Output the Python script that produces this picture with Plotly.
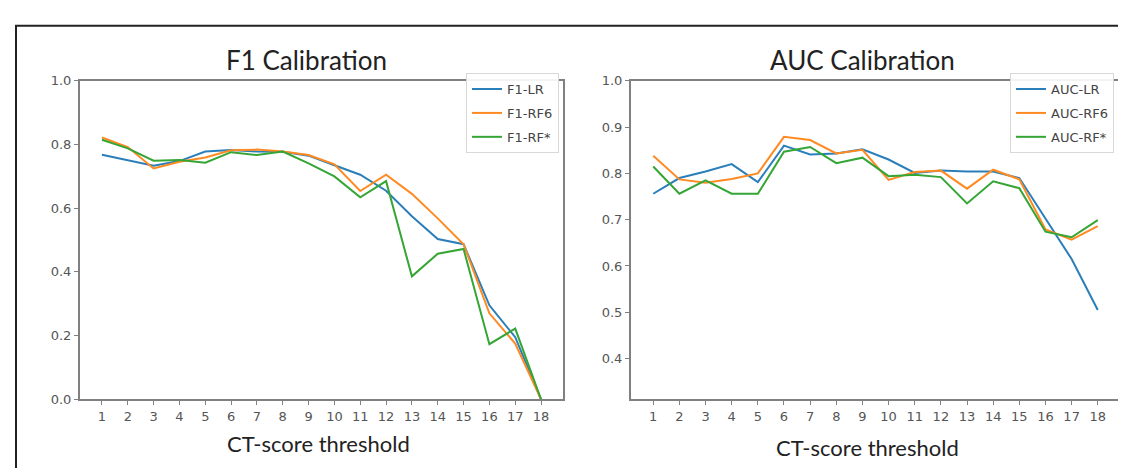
import plotly.graph_objects as go

thresholds = list(range(1, 19))
tick_labels = [str(t) for t in thresholds]

f1_lr = [0.768, 0.751, 0.733, 0.748, 0.778, 0.783, 0.778, 0.777, 0.765, 0.735,
         0.705, 0.655, 0.575, 0.503, 0.487, 0.295, 0.195, 0.0]
f1_rf6 = [0.822, 0.792, 0.725, 0.746, 0.759, 0.782, 0.784, 0.778, 0.767, 0.738,
          0.654, 0.705, 0.645, 0.568, 0.487, 0.270, 0.175, 0.0]
f1_rfstar = [0.815, 0.788, 0.749, 0.751, 0.743, 0.776, 0.767, 0.778, 0.741, 0.700,
             0.634, 0.685, 0.386, 0.457, 0.472, 0.173, 0.222, 0.0]

auc_lr = [0.756, 0.790, 0.804, 0.820, 0.781, 0.860, 0.841, 0.843, 0.852, 0.830,
          0.801, 0.806, 0.804, 0.804, 0.790, 0.703, 0.615, 0.505]
auc_rf6 = [0.838, 0.787, 0.780, 0.788, 0.800, 0.879, 0.872, 0.843, 0.851, 0.786,
           0.803, 0.806, 0.767, 0.808, 0.787, 0.679, 0.657, 0.686]
auc_rfstar = [0.815, 0.756, 0.785, 0.756, 0.756, 0.847, 0.857, 0.822, 0.834, 0.794,
              0.797, 0.792, 0.735, 0.783, 0.768, 0.674, 0.662, 0.699]

COLORS = ["#2a7fba", "#ff8a22", "#35a535"]
W, H = 1126, 468

fig = go.Figure()

f1_series = [("F1-LR", f1_lr), ("F1-RF6", f1_rf6), ("F1-RF*", f1_rfstar)]
auc_series = [("AUC-LR", auc_lr), ("AUC-RF6", auc_rf6), ("AUC-RF*", auc_rfstar)]

for i, (name, vals) in enumerate(f1_series):
    fig.add_trace(go.Scatter(x=thresholds, y=vals, mode="lines", name=name,
                             line=dict(color=COLORS[i], width=2),
                             xaxis="x", yaxis="y", legend="legend",
                             legendgroup=name))
for i, (name, vals) in enumerate(auc_series):
    fig.add_trace(go.Scatter(x=thresholds, y=vals, mode="lines", name=name,
                             line=dict(color=COLORS[i], width=2),
                             xaxis="x2", yaxis="y2", legend="legend2",
                             legendgroup=name))

axis_common = dict(showline=True, linecolor="#808080", linewidth=2, mirror=True,
                   ticks="outside", ticklen=4, tickcolor="#808080", tickwidth=1,
                   showgrid=False, zeroline=False,
                   tickfont=dict(family="DejaVu Sans", size=13, color="#555"))

ydom = [1 - 397 / H, 1 - 68 / H]
fig.update_layout(
    width=W, height=H,
    margin=dict(l=0, r=0, t=0, b=0),
    paper_bgcolor="white", plot_bgcolor="white",
    xaxis=dict(domain=[72 / W, 555 / W], range=[0.15, 18.85],
               tickmode="array", tickvals=thresholds, ticktext=tick_labels,
               anchor="y", **axis_common),
    yaxis=dict(domain=ydom, range=[0, 1.0], tickmode="array",
               tickvals=[0, 0.2, 0.4, 0.6, 0.8, 1.0],
               ticktext=["0.0", "0.2", "0.4", "0.6", "0.8", "1.0"],
               anchor="x", **axis_common),
    xaxis2=dict(domain=[623 / W, 1112 / W], range=[0.15, 18.85],
                tickmode="array", tickvals=thresholds, ticktext=tick_labels,
                anchor="y2", **axis_common),
    yaxis2=dict(domain=ydom, range=[0.312, 1.0], tickmode="array",
                tickvals=[0.4, 0.5, 0.6, 0.7, 0.8, 0.9, 1.0],
                ticktext=["0.4", "0.5", "0.6", "0.7", "0.8", "0.9", "1.0"],
                anchor="x2", **axis_common),
    legend=dict(x=551 / W, xanchor="right", y=1 - 60 / H, yanchor="top",
                bgcolor="rgba(255,255,255,0.9)", bordercolor="#d8d8d8", borderwidth=1,
                font=dict(family="DejaVu Sans", size=13, color="#444"),
                tracegroupgap=4, itemwidth=30),
    legend2=dict(x=1106 / W, xanchor="right", y=1 - 60 / H, yanchor="top",
                 bgcolor="rgba(255,255,255,0.9)", bordercolor="#d8d8d8", borderwidth=1,
                 font=dict(family="DejaVu Sans", size=13, color="#444"),
                 tracegroupgap=4, itemwidth=30),
    showlegend=True,
)

title_font = dict(family="Lato", size=26, color="#222")
label_font = dict(family="Lato", size=22, color="#222")
annotations = [
    dict(text="F1 Calibration", x=298 / W, y=1 - 46 / H, xref="paper", yref="paper",
         showarrow=False, font=title_font, xanchor="center", yanchor="middle"),
    dict(text="AUC Calibration", x=854 / W, y=1 - 46 / H, xref="paper", yref="paper",
         showarrow=False, font=title_font, xanchor="center", yanchor="middle"),
    dict(text="CT-score threshold", x=310 / W, y=1 - 443 / H, xref="paper", yref="paper",
         showarrow=False, font=label_font, xanchor="center", yanchor="middle"),
    dict(text="CT-score threshold", x=860 / W, y=1 - 447 / H, xref="paper", yref="paper",
         showarrow=False, font=label_font, xanchor="center", yanchor="middle"),
]
fig.update_layout(annotations=annotations)

fig.add_shape(type="rect", xref="paper", yref="paper",
              x0=8 / W, x1=1121 / W, y0=-0.05, y1=1 - 11 / H,
              line=dict(color="#222", width=2), fillcolor="rgba(0,0,0,0)", layer="below")

fig.write_html("out.html")
